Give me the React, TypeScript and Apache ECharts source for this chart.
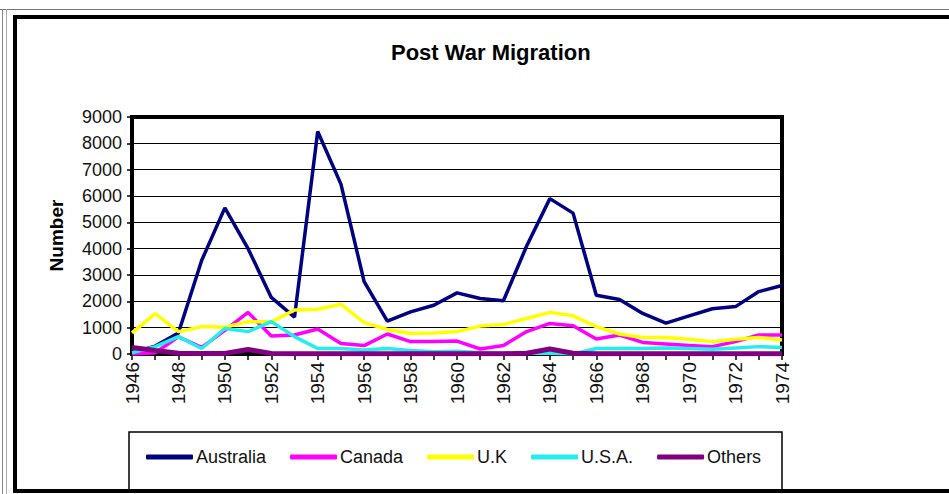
import React, { useEffect, useRef } from "react";
import * as echarts from "echarts";

const years = [
  "1946", "1947", "1948", "1949", "1950", "1951", "1952", "1953", "1954", "1955",
  "1956", "1957", "1958", "1959", "1960", "1961", "1962", "1963", "1964", "1965",
  "1966", "1967", "1968", "1969", "1970", "1971", "1972", "1973", "1974",
];

const australia = [50, 300, 800, 3550, 5550, 4000, 2150, 1400, 8450, 6450, 2750, 1250, 1600, 1850, 2320, 2110, 2020, 4100, 5900, 5350, 2230, 2070, 1540, 1170, 1450, 1720, 1800, 2370, 2600];
const canada = [0, 50, 650, 250, 900, 1580, 680, 720, 950, 400, 320, 760, 470, 470, 490, 190, 320, 850, 1160, 1070, 570, 720, 440, 380, 320, 280, 470, 720, 720];
const uk = [800, 1530, 850, 1040, 1020, 1230, 1220, 1670, 1700, 1890, 1190, 930, 780, 800, 850, 1060, 1120, 1350, 1580, 1450, 1040, 760, 630, 630, 560, 470, 560, 630, 530];
const usa = [50, 280, 660, 210, 970, 850, 1230, 660, 210, 210, 150, 210, 130, 90, 100, 50, 30, 30, 30, 0, 210, 210, 210, 230, 210, 180, 230, 280, 250];
const others = [250, 130, 30, 20, 20, 170, 20, 10, 10, 10, 10, 10, 10, 10, 10, 10, 10, 30, 190, 30, 10, 10, 10, 10, 10, 10, 10, 10, 10];

const seriesNames = ["Australia", "Canada", "U.K", "U.S.A.", "Others"];
const seriesColors = ["#000080", "#ff00ff", "#ffff00", "#22eeee", "#800080"];
const seriesData = [australia, canada, uk, usa, others];

const FONT = "'Liberation Sans', Arial, sans-serif";

export default function App() {
  const ref = useRef<HTMLDivElement>(null);
  useEffect(() => {
    if (!ref.current) return;
    const chart = echarts.init(ref.current, undefined, { renderer: "svg" });
    chart.setOption({
      animation: false,
      backgroundColor: "#fff",
      title: {
        text: "Post War Migration",
        left: 386,
        top: 36,
        textStyle: { fontFamily: FONT, fontSize: 22, fontWeight: "bold", color: "#000" },
      },
      legend: {
        left: 141,
        top: 443,
        itemWidth: 47,
        itemHeight: 5,
        itemGap: 24,
        icon: "roundRect",
        textStyle: { fontFamily: FONT, fontSize: 18, color: "#111", padding: [0, 0, 0, -2] },
        data: seriesNames,
      },
      grid: {
        left: 132,
        top: 117,
        width: 650,
        height: 237,
        show: true,
        borderColor: "#000",
        borderWidth: 4,
        backgroundColor: "transparent",
      },
      xAxis: {
        type: "category",
        data: years,
        boundaryGap: false,
        axisLine: { show: true, lineStyle: { color: "#000", width: 2 } },
        axisTick: { show: true, interval: 0, length: 6, lineStyle: { color: "#000", width: 1.5 } },
        axisLabel: {
          interval: 1,
          rotate: 90,
          margin: 8,
          fontFamily: FONT,
          fontSize: 19,
          color: "#111",
        },
        splitLine: { show: false },
      },
      yAxis: {
        type: "value",
        min: 0,
        max: 9000,
        interval: 1000,
        name: "Number",
        nameLocation: "middle",
        nameRotate: 90,
        nameGap: 66,
        nameTextStyle: { fontFamily: FONT, fontSize: 19, fontWeight: "bold", color: "#000" },
        axisLine: { show: false },
        axisTick: { show: true, length: 5, lineStyle: { color: "#000", width: 1.5 } },
        axisLabel: {
          margin: 10,
          fontFamily: FONT,
          fontSize: 18,
          color: "#111",
          formatter: (v: number) => String(v),
        },
        splitLine: { show: true, lineStyle: { color: "#000", width: 1 } },
      },
      graphic: [
        { type: "line", shape: { x1: 0, y1: 9.5, x2: 949, y2: 9.5 }, style: { stroke: "#777", lineWidth: 1 }, z: 0 },
        { type: "line", shape: { x1: 2.5, y1: 9, x2: 2.5, y2: 494 }, style: { stroke: "#888", lineWidth: 1 }, z: 0 },
        { type: "line", shape: { x1: 6.5, y1: 9, x2: 6.5, y2: 494 }, style: { stroke: "#aaa", lineWidth: 1 }, z: 0 },
        {
          type: "rect",
          shape: { x: 15, y: 17, width: 1000, height: 474 },
          style: { fill: "none", stroke: "#000", lineWidth: 4 },
          z: 0,
        },
        {
          type: "rect",
          shape: { x: 129, y: 432, width: 653, height: 58 },
          style: { fill: "none", stroke: "#000", lineWidth: 1.5 },
          z: 0,
        },
      ],
      series: seriesNames.map((name, i) => ({
        name,
        type: "line",
        data: seriesData[i],
        symbol: "none",
        showSymbol: false,
        lineStyle: { color: seriesColors[i], width: i === 4 ? 5 : 3.5 },
        itemStyle: { color: seriesColors[i] },
        z: 3,
      })),
    });
    return () => chart.dispose();
  }, []);
  return (
    <div
      ref={ref}
      style={{ position: "fixed", left: 0, top: 0, width: 949, height: 494, background: "#fff" }}
    />
  );
}
